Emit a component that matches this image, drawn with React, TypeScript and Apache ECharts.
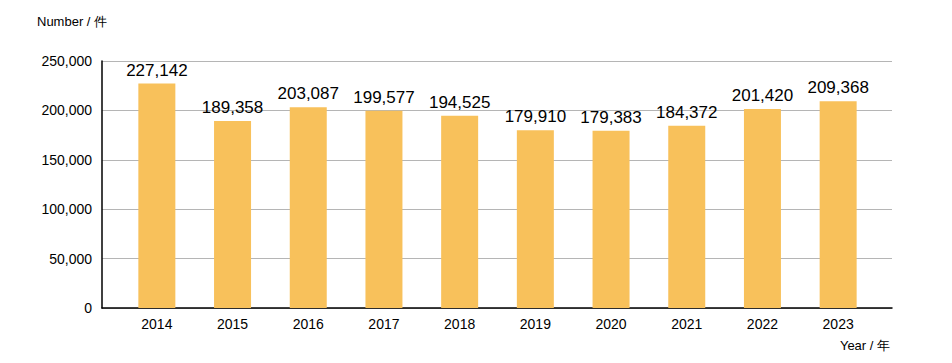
import React, { useEffect, useRef } from "react";
import * as echarts from "echarts";

const years = ["2014", "2015", "2016", "2017", "2018", "2019", "2020", "2021", "2022", "2023"];
const counts = [227142, 189358, 203087, 199577, 194525, 179910, 179383, 184372, 201420, 209368];
const yTicks = { min: 0, max: 250000, interval: 50000 };

const FONT = "'Liberation Sans', Arial, Helvetica, sans-serif";
const fmt = (v: number) => Number(v).toLocaleString("en-US");

export default function App() {
  const ref = useRef<HTMLDivElement>(null);
  useEffect(() => {
    if (!ref.current) return;
    const chart = echarts.init(ref.current, undefined, { renderer: "svg" });
    chart.setOption({
      animation: false,
      backgroundColor: "#ffffff",
      textStyle: { fontFamily: FONT },
      grid: [
        { left: 102, right: 60, top: 61, bottom: 55 },
        { left: 119, right: 76, top: 61, bottom: 55 },
      ],
      xAxis: [
        {
          gridIndex: 0,
          type: "value",
          min: 0,
          max: 1,
          axisLine: { show: true, onZero: false, lineStyle: { color: "#000", width: 1.5 } },
          axisTick: { show: false },
          axisLabel: { show: false },
          splitLine: { show: false },
        },
        {
          gridIndex: 1,
          type: "category",
          data: years,
          axisLine: { show: false },
          axisTick: { show: false },
          axisLabel: { color: "#000", fontSize: 14, margin: 9, fontFamily: FONT },
          splitLine: { show: false },
        },
      ],
      yAxis: [
        {
          gridIndex: 0,
          type: "value",
          min: yTicks.min,
          max: yTicks.max,
          interval: yTicks.interval,
          axisLine: { show: true, lineStyle: { color: "#000", width: 1.5 } },
          axisTick: { show: false },
          axisLabel: { color: "#000", fontSize: 14, margin: 10, formatter: (v: number) => fmt(v), fontFamily: FONT },
          splitLine: { show: true, lineStyle: { color: "#b5b5b5", width: 1 } },
        },
        {
          gridIndex: 1,
          type: "value",
          min: yTicks.min,
          max: yTicks.max,
          interval: yTicks.interval,
          show: false,
          splitLine: { show: false },
        },
      ],
      series: [
        {
          type: "bar",
          xAxisIndex: 1,
          yAxisIndex: 1,
          data: counts,
          barWidth: 37,
          itemStyle: { color: "#F8C15B" },
          label: {
            show: true,
            position: "top",
            distance: 5,
            color: "#000",
            fontSize: 17,
            fontFamily: FONT,
            formatter: (p: any) => fmt(p.value),
          },
        },
      ],
      graphic: [
        {
          type: "text",
          left: 37,
          top: 15,
          style: { text: "Number / 件", fill: "#000", fontSize: 13, fontFamily: FONT },
        },
        {
          type: "text",
          right: 62,
          top: 339,
          style: { text: "Year / 年", fill: "#000", fontSize: 13, fontFamily: FONT },
        },
      ],
    });
    return () => chart.dispose();
  }, []);
  return (
    <div
      ref={ref}
      style={{ position: "fixed", left: 0, top: 0, width: 952, height: 363 }}
    />
  );
}
